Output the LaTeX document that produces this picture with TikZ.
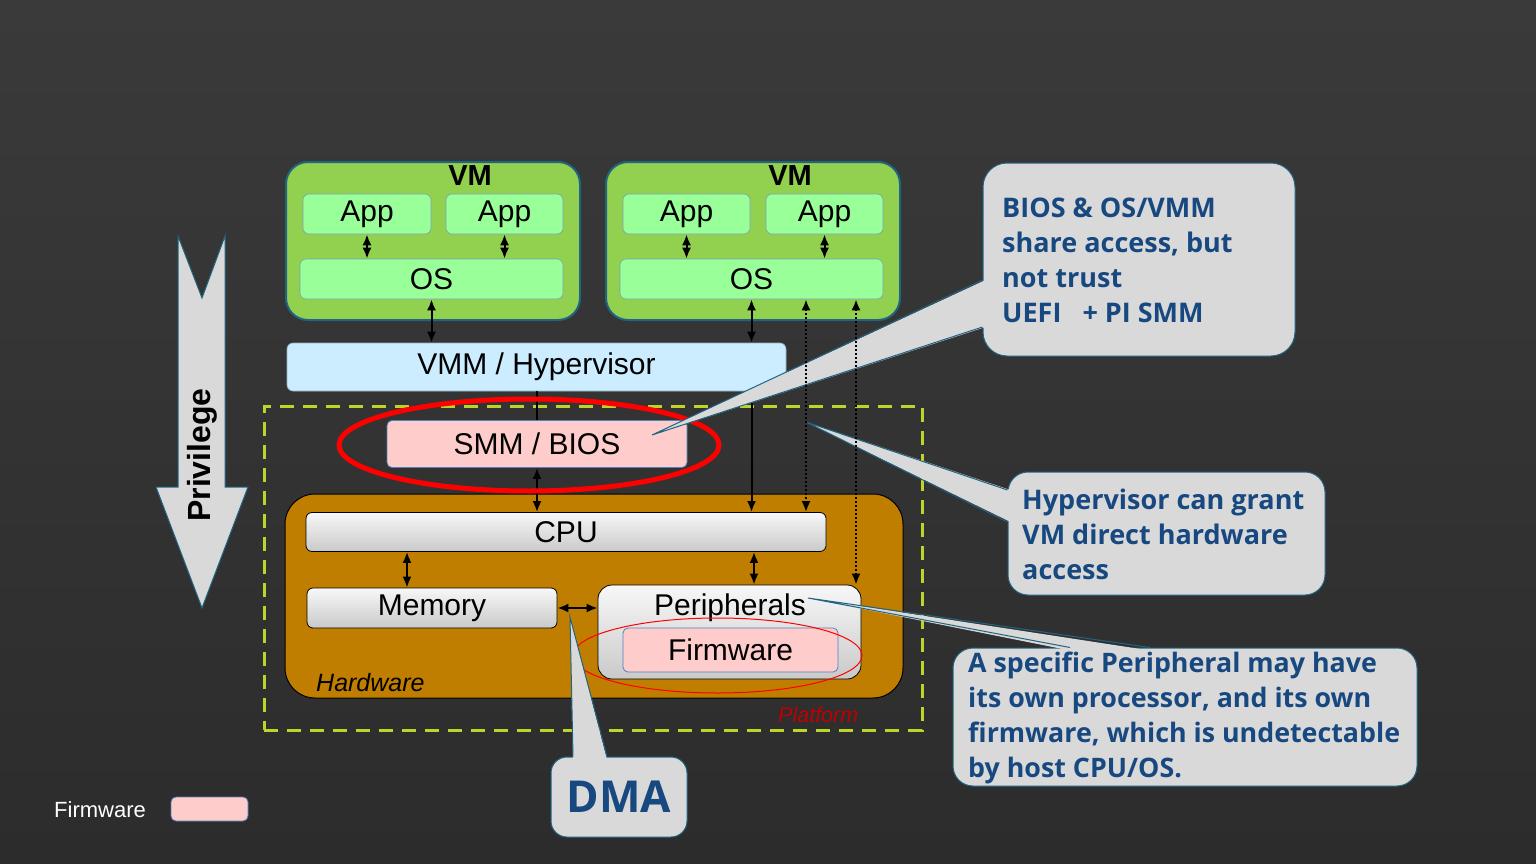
\documentclass[tikz,border=0pt]{standalone}
\usepackage{fontspec}
\setmainfont{Liberation Sans}
\newfontfamily\calloutfont{Open Sans}
\usepackage{tikz}
\usetikzlibrary{arrows,arrows.meta,shapes,calc}
\definecolor{vmgreen}{RGB}{146,208,80}
\definecolor{boxgreen}{RGB}{153,255,153}
\definecolor{edgeteal}{RGB}{31,100,130}
\definecolor{vmmblue}{RGB}{204,236,255}
\definecolor{fwpink}{RGB}{255,204,204}
\definecolor{fwedge}{RGB}{79,129,189}
\definecolor{hwbrown}{RGB}{192,126,0}
\definecolor{platgreen}{RGB}{190,212,40}
\definecolor{platred}{RGB}{192,0,0}
\definecolor{callgray}{RGB}{217,217,217}
\definecolor{calltext}{RGB}{23,72,128}
\definecolor{bgtop}{RGB}{58,58,58}
\definecolor{bgbot}{RGB}{44,44,44}

\begin{document}
\begin{tikzpicture}[x=1pt, y=-1pt, >={Latex[length=11pt,width=9pt]},
big font/.style={font=\fontsize{30pt}{36pt}\selectfont},
vm box/.style={draw=edgeteal, line width=2pt, fill=vmgreen, rounded corners=22pt, minimum width=294pt, minimum height=158pt, inner sep=0pt},
vm title/.style={font=\fontsize{29pt}{34pt}\selectfont\bfseries, inner sep=0pt},
app box/.style={draw=edgeteal!60, line width=0.6pt, fill=boxgreen, rounded corners=6pt, minimum height=40pt, inner sep=0pt, big font},
vmm box/.style={draw=edgeteal!50, line width=0.6pt, fill=vmmblue, rounded corners=6pt, minimum width=499pt, minimum height=48pt, inner sep=0pt, big font},
fw box/.style={draw=fwedge, line width=0.8pt, fill=fwpink, rounded corners=5pt, inner sep=0pt},
hw box/.style={draw=black, line width=1pt, fill=hwbrown, rounded corners=30pt, minimum width=618pt, minimum height=204pt},
chip box/.style={draw=black, line width=0.8pt, top color=gray!6, bottom color=gray!42, rounded corners=6pt, inner sep=0pt, big font},
platform box/.style={draw=platgreen, line width=3pt, dash pattern=on 14pt off 9pt, minimum width=658pt, minimum height=324pt},
ring/.style={ellipse, draw=red, inner sep=0pt},
link/.style={<->, line width=2pt},
one way/.style={->, line width=2pt},
dot link/.style={<->, line width=2pt, dotted},
note box/.style={draw=edgeteal, line width=1pt, fill=callgray, rounded corners=24pt, inner sep=0pt},
note text/.style={text=calltext, align=left, inner sep=0pt, font=\calloutfont\bfseries\fontsize{27pt}{35pt}\selectfont}]
\shade[top color=bgtop, bottom color=bgbot] (0,0) rectangle (1536,864);
\useasboundingbox (0,0) rectangle (1536,864);

% privilege arrow
\filldraw[fill=callgray, draw=edgeteal, line width=1pt] (178,236) -- (202,298) -- (225,236) -- (225,487) -- (248,487) -- (202,608) -- (156,487) -- (178,487) -- cycle;
\node[rotate=90, inner sep=0pt, font=\bfseries\fontsize{32pt}{38pt}\selectfont] (privt) at (202,455) {Privilege};

% virtual machines
\node[vm box] (vmA) at (433,241) {};
\node[vm box] (vmB) at (753,241) {};
\node[vm title] (vmAt) at (470,176) {VM};
\node[vm title] (vmBt) at (790,176) {VM};
\node[app box, minimum width=128pt] (appA) at (367,214) {App};
\node[app box, minimum width=117pt] (appB) at (504.5,214) {App};
\node[app box, minimum width=127pt] (appC) at (686.5,214) {App};
\node[app box, minimum width=117pt] (appD) at (824.5,214) {App};
\node[app box, minimum width=263pt] (osA) at (431.5,279) {OS};
\node[app box, minimum width=263pt] (osB) at (751.5,279) {OS};
\node[vmm box] (vmm) at (536.5,367) {VMM / Hypervisor};

% platform
\node[platform box] (plat) at (593,568) {};
\node[fw box, minimum width=300pt, minimum height=47pt, big font] (smm) at (537,444) {SMM / BIOS};
\node[hw box] (hw) at (594,596) {};
\node[chip box, minimum width=520pt, minimum height=39pt] (cpu) at (566,532) {CPU};
\node[chip box, minimum width=250pt, minimum height=40pt] (mem) at (432,608) {Memory};
\node[chip box, minimum width=263pt, minimum height=94pt, rounded corners=14pt] (peri) at (729.5,632) {};
\node[big font, inner sep=0pt] (perit) at (730,608) {Peripherals};
\node[fw box, minimum width=215pt, minimum height=44pt, big font] (fw) at (730.5,650) {Firmware};
\node[anchor=west, inner sep=0pt, font=\itshape\fontsize{25pt}{30pt}\selectfont] (hwt) at (316,683) {Hardware};
\node[anchor=west, inner sep=0pt, text=platred, font=\itshape\fontsize{21.5pt}{26pt}\selectfont] (platt) at (778,715) {Platform};

\draw[link] (appA.south) -- (appA.south |- osA.north);
\draw[link] (appB.south) -- (appB.south |- osA.north);
\draw[link] (appC.south) -- (appC.south |- osB.north);
\draw[link] (appD.south) -- (appD.south |- osB.north);
\draw[link] (osA.south) -- (osA.south |- vmm.north);
\draw[link] (osB.south) -- (osB.south |- vmm.north);
\draw[line width=1.2pt] (vmm.south -| smm.north) -- (smm.north);
\draw[one way] (vmm.south -| osB.south) -- (osB.south |- cpu.north);
\draw[link] (smm.south) -- (smm.south |- cpu.north);
\draw[link] ($(mem.north)+(-25,0)$) -- ($(mem.north |- cpu.south)+(-25,0)$);
\draw[link] ($(peri.north)+(24.5,0)$) -- ($(peri.north |- cpu.south)+(24.5,0)$);
\draw[link] (mem.east) -- (mem.east -| peri.west);

\node[ring, line width=5pt, minimum width=380pt, minimum height=92pt] (smmring) at (529,445) {};
\node[ring, line width=1pt, minimum width=289pt, minimum height=75pt] (fwring) at (717.5,655.5) {};

% callouts
\node[note box, minimum width=312pt, minimum height=193pt] (noteA) at (1139,259.5) {};
\coordinate (tipA) at (652,435);
\fill[callgray] ($(noteA.west)+(3,20.5)$) -- (tipA) -- ($(noteA.west)+(3,67.5)$) -- cycle;
\draw[edgeteal, line width=1pt] ($(noteA.west)+(0,20.5)$) -- (tipA) -- ($(noteA.west)+(0,67.5)$);
\node[note text, anchor=west] (noteAt) at (1002,260) {BIOS \& OS/VMM\\share access, but\\not trust\\UEFI \ \ + PI SMM};

\node[note box, rounded corners=20pt, minimum width=317pt, minimum height=123pt] (noteB) at (1166.5,533.5) {};
\coordinate (tipB) at (806,422);
\fill[callgray] ($(noteB.west)+(3,-43.5)$) -- (tipB) -- ($(noteB.west)+(3,-11.5)$) -- cycle;
\draw[edgeteal, line width=1pt] ($(noteB.west)+(0,-43.5)$) -- (tipB) -- ($(noteB.west)+(0,-11.5)$);
\node[note text, anchor=west] (noteBt) at (1022,534) {Hypervisor can grant\\VM direct hardware\\access};

\node[note box, rounded corners=20pt, minimum width=464pt, minimum height=138pt] (noteC) at (1185,717) {};
\coordinate (tipC) at (808,598);
\fill[callgray] ($(noteC.north)+(-115,3)$) -- (tipC) -- ($(noteC.north)+(-35,3)$) -- cycle;
\draw[edgeteal, line width=1pt] ($(noteC.north)+(-115,0)$) -- (tipC) -- ($(noteC.north)+(-35,0)$);
\node[note text, anchor=west, font=\calloutfont\bfseries\fontsize{26.8pt}{35pt}\selectfont] (noteCt) at (968,717.5) {A specific Peripheral may have\\its own processor, and its own\\firmware, which is undetectable\\by host CPU/OS.};

\node[note box, rounded corners=16pt, minimum width=136pt, minimum height=80pt] (noteD) at (619,797) {};
\coordinate (tipD) at (570,617);
\fill[callgray] ($(noteD.north)+(-46,3)$) -- (tipD) -- ($(noteD.north)+(-12,3)$) -- cycle;
\draw[edgeteal, line width=1pt] ($(noteD.north)+(-46,0)$) -- (tipD) -- ($(noteD.north)+(-12,0)$);
\node[note text, font=\calloutfont\bfseries\fontsize{44pt}{50pt}\selectfont] (noteDt) at (619,797) {DMA};

% direct access
\draw[dot link] ($(osB.south)+(54.5,0)$) -- ($(osB.south |- cpu.north)+(54.5,0)$);
\draw[dot link] ($(osB.south)+(104.5,0)$) -- ($(osB.south |- peri.north)+(104.5,0)$);

% legend
\node[anchor=west, inner sep=0pt, text=white, font=\fontsize{22pt}{26pt}\selectfont] (legendt) at (54,810) {Firmware};
\node[fw box, minimum width=77pt, minimum height=24pt] (legendbox) at (209.5,809) {};
\end{tikzpicture}
\end{document}
